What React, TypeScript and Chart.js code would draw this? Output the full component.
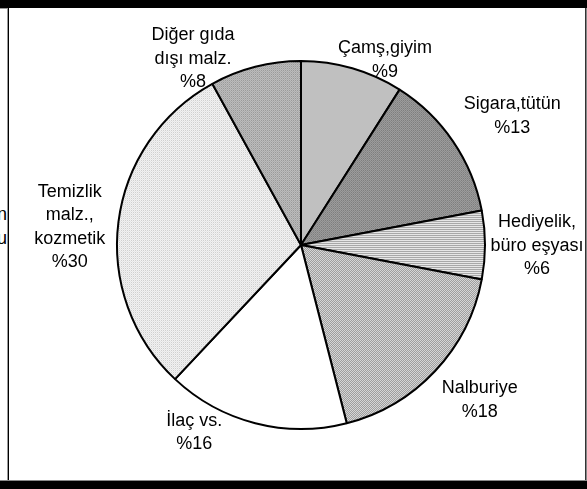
import React, { useEffect, useRef } from "react";
import { Chart, registerables } from "chart.js";

Chart.register(...registerables);

const categories = ["Çamş,giyim", "Sigara,tütün", "Hediyelik, büro eşyası", "Nalburiye", "İlaç vs.", "Temizlik malz., kozmetik", "Diğer gıda dışı malz."];
const shares = [9, 13, 6, 18, 16, 30, 8];
const labelLines = [
  ["Çamş,giyim"],
  ["Sigara,tütün"],
  ["Hediyelik,", "büro eşyası"],
  ["Nalburiye"],
  ["İlaç vs."],
  ["Temizlik", "malz.,", "kozmetik"],
  ["Diğer gıda", "dışı malz."],
];
// label placement: angle shift (deg) from slice middle, distance as multiple of radius
const labelAngleShift = [8.1, 2.6, 0, -2.4, 15.4, -2.5, -15.6];
const labelRadiusFactor = [1.109, 1.348, 1.283, 1.283, 1.168, 1.261, 1.174];

function makePattern(w: number, h: number, cells: string[]): CanvasPattern | string {
  const c = document.createElement("canvas");
  c.width = w;
  c.height = h;
  const ctx = c.getContext("2d");
  if (!ctx) return cells[0];
  for (let j = 0; j < h; j++) {
    for (let i = 0; i < w; i++) {
      ctx.fillStyle = cells[j * w + i];
      ctx.fillRect(i, j, 1, 1);
    }
  }
  const p = ctx.createPattern(c, "repeat");
  return p || cells[0];
}

const labelPlugin = {
  id: "outerLabels",
  afterDatasetsDraw(chart: any) {
    const ctx = chart.ctx;
    const meta = chart.getDatasetMeta(0);
    ctx.save();
    ctx.font = '18px "Liberation Sans", Arial, sans-serif';
    ctx.fillStyle = "#000";
    ctx.textAlign = "center";
    ctx.textBaseline = "middle";
    const lh = 23.5;
    meta.data.forEach((arc: any, i: number) => {
      const p = arc.getProps(["x", "y", "startAngle", "endAngle", "outerRadius"], true);
      const mid = (p.startAngle + p.endAngle) / 2 + (labelAngleShift[i] * Math.PI) / 180;
      const r = p.outerRadius * labelRadiusFactor[i];
      const cx = p.x + r * Math.cos(mid);
      const cy = p.y + r * Math.sin(mid);
      const lines = [...labelLines[i], "%" + shares[i]];
      const top = cy - ((lines.length - 1) * lh) / 2;
      lines.forEach((t, k) => ctx.fillText(t, cx, top + k * lh + 1));
    });
    ctx.restore();
  },
};

export default function App() {
  const ref = useRef<HTMLCanvasElement>(null);
  useEffect(() => {
    if (!ref.current) return;
    const fills = [
      "#c0c0c0",
      makePattern(2, 2, ["#7e7e7e", "#9c9c9c", "#9c9c9c", "#8a8a8a"]),
      makePattern(1, 2, ["#e6e6e6", "#a8a8a8"]),
      makePattern(2, 2, ["#9e9e9e", "#d6d6d6", "#d6d6d6", "#9e9e9e"]),
      "#ffffff",
      makePattern(2, 2, ["#d0d0d0", "#f2f2f2", "#f2f2f2", "#e6e6e6"]),
      makePattern(2, 2, ["#9a9a9a", "#bcbcbc", "#bcbcbc", "#acacac"]),
    ];
    const chart = new Chart(ref.current, {
      type: "pie",
      data: {
        labels: categories,
        datasets: [
          {
            data: shares,
            backgroundColor: fills as any,
            borderColor: "#000",
            borderWidth: 2,
            hoverBorderWidth: 2,
          },
        ],
      },
      options: {
        responsive: false,
        animation: false,
        layout: { padding: { top: 52, bottom: 51, left: 107, right: 99 } },
        plugins: { legend: { display: false }, tooltip: { enabled: false } },
        events: [],
      },
      plugins: [labelPlugin],
    });
    return () => chart.destroy();
  }, []);

  const abs = (s: React.CSSProperties): React.CSSProperties => ({ position: "absolute", ...s });
  return (
    <div style={abs({ left: 0, top: 0, width: 587, height: 489, background: "#fff", overflow: "hidden", fontFamily: '"Liberation Sans", Arial, sans-serif' })}>
      <div style={abs({ left: 0, top: 0, width: 7, height: 481, overflow: "hidden" })}>
        <div style={abs({ right: 0, top: 203, fontSize: 18, lineHeight: "23.5px", textAlign: "right", whiteSpace: "nowrap", color: "#000" })}>
          <div>n</div>
          <div>ju</div>
        </div>
      </div>
      <canvas ref={ref} width={576} height={473} style={abs({ left: 9, top: 8 })} />
      <div style={abs({ left: 0, top: 0, width: 587, height: 8, background: "#000" })} />
      <div style={abs({ left: 0, top: 8, width: 7, height: 1, background: "#999" })} />
      <div style={abs({ left: 7, top: 8, width: 1, height: 473, background: "#999" })} />
      <div style={abs({ left: 8, top: 8, width: 1, height: 473, background: "#000" })} />
      <div style={abs({ left: 585, top: 8, width: 1, height: 473, background: "#333" })} />
      <div style={abs({ left: 586, top: 8, width: 1, height: 473, background: "#888" })} />
      <div style={abs({ left: 0, top: 480, width: 587, height: 1, background: "#888" })} />
      <div style={abs({ left: 0, top: 481, width: 587, height: 8, background: "#000" })} />
    </div>
  );
}
